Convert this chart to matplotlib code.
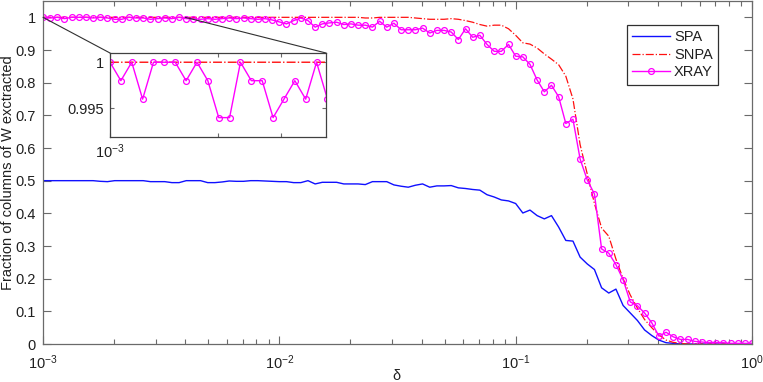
import numpy as np
import matplotlib
matplotlib.use("Agg")
import matplotlib.pyplot as plt
from matplotlib.ticker import FixedLocator, FuncFormatter, LogLocator, NullFormatter
from matplotlib.patches import ConnectionPatch

plt.rcParams['font.family'] = ['Liberation Sans', 'DejaVu Sans']
plt.rcParams['mathtext.fontset'] = 'custom'
plt.rcParams['mathtext.rm'] = 'Liberation Sans'
plt.rcParams['mathtext.it'] = 'Liberation Sans:italic'

# delta grid: 100 log-spaced values from 1e-3 to 1
delta = np.logspace(-3, 0, 100)

spa = [0.5, 0.5, 0.5, 0.5, 0.5, 0.5, 0.5, 0.5, 0.498, 0.497,
       0.5, 0.5, 0.5, 0.5, 0.5, 0.497, 0.497, 0.497, 0.494, 0.494,
       0.5, 0.5, 0.5, 0.494, 0.494, 0.496, 0.499, 0.498, 0.498, 0.5,
       0.5, 0.499, 0.498, 0.497, 0.497, 0.494, 0.494, 0.5, 0.49, 0.495,
       0.495, 0.495, 0.49, 0.49, 0.49, 0.488, 0.497, 0.497, 0.497, 0.487,
       0.483, 0.48, 0.486, 0.49, 0.48, 0.484, 0.484, 0.485, 0.478, 0.476,
       0.473, 0.471, 0.457, 0.45, 0.441, 0.438, 0.43, 0.401, 0.41, 0.393,
       0.383, 0.393, 0.358, 0.317, 0.315, 0.266, 0.245, 0.228, 0.172, 0.156,
       0.168, 0.118, 0.095, 0.072, 0.043, 0.026, 0.012, 0.004, 0.002, 0.0,
       0.0, 0.0, 0.0, 0.0, 0.0, 0.0, 0.0, 0.0, 0.0, 0.0]

snpa = [1.0] * 45 + [
       0.998, 0.998, 1.0, 1.0, 1.0, 1.0, 1.0, 0.998, 0.996, 0.994,
       0.994, 0.994, 0.996, 0.994, 0.99, 0.985, 0.978, 0.973, 0.976, 0.976,
       0.965, 0.945, 0.922, 0.918, 0.906, 0.888, 0.872, 0.855, 0.82, 0.75,
       0.61, 0.52, 0.43, 0.355, 0.33, 0.26, 0.2, 0.15, 0.11, 0.075,
       0.05, 0.028, 0.012, 0.005, 0.002, 0.0, 0.0, 0.0, 0.0, 0.0,
       0.0, 0.0, 0.0, 0.0, 0.0]

xray = [1.0, 0.998, 1.0, 0.996, 1.0, 1.0, 1.0, 0.998, 1.0, 0.998,
        0.994, 0.994, 1.0, 0.998, 0.998, 0.994, 0.996, 0.998, 0.996, 1.0,
        0.996, 0.996, 0.994, 0.996, 0.994, 0.996, 0.998, 0.996, 0.998, 0.996,
        0.994, 0.996, 0.992, 0.986, 0.98, 0.99, 0.998, 0.99, 0.97, 0.98,
        0.983, 0.985, 0.978, 0.98, 0.976, 0.976, 0.97, 0.988, 0.97, 0.982,
        0.962, 0.962, 0.962, 0.967, 0.952, 0.96, 0.96, 0.955, 0.932, 0.965,
        0.939, 0.945, 0.917, 0.896, 0.896, 0.917, 0.881, 0.879, 0.856, 0.808,
        0.772, 0.792, 0.757, 0.675, 0.688, 0.566, 0.502, 0.459, 0.291, 0.278,
        0.243, 0.197, 0.129, 0.117, 0.095, 0.065, 0.024, 0.036, 0.022, 0.014,
        0.014, 0.008, 0.006, 0.004, 0.004, 0.004, 0.002, 0.002, 0.002, 0.002]

yticks = [0, 0.1, 0.2, 0.3, 0.4, 0.5, 0.6, 0.7, 0.8, 0.9, 1]
inset_yticks = [0.995, 1.0]

SPINE = '#6a6a6a'
TXT = '#202020'
C_SPA = '#1010ff'
C_SNPA = '#ff1010'
C_XRAY = '#ff00ff'

W, H = 763, 382
fig = plt.figure(figsize=(W / 100, H / 100), dpi=100)
ax = fig.add_axes([43 / W, 1 - 344 / H, (752 - 43) / W, 343 / H])

ax.plot(delta, spa, '-', color=C_SPA, lw=1.0, label='SPA')
ax.plot(delta, snpa, '-.', color=C_SNPA, lw=0.9, label='SNPA')
ax.plot(delta, xray, '-', color=C_XRAY, lw=1.0, marker='o', ms=4.2,
        mfc='none', mec=C_XRAY, mew=0.9, label='XRAY')

ax.set_xscale('log')
ax.set_xlim(1e-3, 1)
ax.set_ylim(0, 1.05)
ax.yaxis.set_major_locator(FixedLocator(yticks))
ax.yaxis.set_major_formatter(FuncFormatter(lambda v, p: '%g' % v))
ax.xaxis.set_major_locator(LogLocator(base=10, numticks=10))
ax.xaxis.set_major_formatter(FuncFormatter(
    lambda v, p: r'$\mathregular{10^{%d}}$' % int(round(np.log10(v)))))
ax.xaxis.set_minor_locator(LogLocator(base=10, subs=np.arange(2, 10), numticks=20))
ax.xaxis.set_minor_formatter(NullFormatter())

for s in ax.spines.values():
    s.set_color(SPINE)
    s.set_linewidth(0.9)
ax.tick_params(which='both', direction='in', top=True, right=True,
               color=SPINE, labelcolor=TXT, labelsize=10.5, width=0.8)
ax.tick_params(which='major', length=6)
ax.tick_params(which='minor', length=3.5)
ax.tick_params(axis='y', pad=5)
ax.tick_params(axis='x', pad=6.5)

ax.set_ylabel('Fraction of columns of W exctracted', fontsize=10.5, color=TXT)
ax.yaxis.set_label_coords(-0.04, 0.5)
ax.set_xlabel('δ', fontsize=10.5, color=TXT)
ax.xaxis.set_label_coords(0.499, -0.072)

leg = ax.legend(loc='upper right', bbox_to_anchor=(0.952, 0.930),
                borderaxespad=0, fontsize=10.5, fancybox=False, framealpha=1,
                edgecolor='#303030', handlelength=2.6, handletextpad=0.3,
                labelspacing=0.25, borderpad=0.35)
leg.get_frame().set_linewidth(0.9)
for t in leg.get_texts():
    t.set_color(TXT)

# inset
axi = fig.add_axes([110 / W, 1 - 137 / H, 216 / W, 84 / H])
axi.plot(delta, snpa, '-.', color=C_SNPA, lw=1.0)
axi.plot(delta, xray, '-', color=C_XRAY, lw=1.0, marker='o', ms=4.2,
         mfc='none', mec=C_XRAY, mew=0.9)
axi.set_xscale('log')
axi.set_xlim(1e-3, 4e-3)
axi.set_ylim(0.9919, 1.001)
axi.yaxis.set_major_locator(FixedLocator(inset_yticks))
axi.yaxis.set_major_formatter(FuncFormatter(lambda v, p: '%g' % v))
axi.xaxis.set_major_locator(FixedLocator([1e-3]))
axi.xaxis.set_major_formatter(FuncFormatter(lambda v, p: r'$\mathregular{10^{-3}}$'))
axi.xaxis.set_minor_locator(FixedLocator([2e-3, 3e-3]))
axi.xaxis.set_minor_formatter(NullFormatter())
for s in axi.spines.values():
    s.set_color('#404040')
    s.set_linewidth(0.9)
axi.tick_params(which='both', direction='in', top=True, right=True,
                color=SPINE, labelcolor=TXT, labelsize=10.5, width=0.8)
axi.tick_params(which='major', length=3)
axi.tick_params(which='minor', length=3)
axi.tick_params(axis='y', pad=4)
axi.tick_params(axis='x', pad=4)

for xa, xb in [(1e-3, 0.0), (4e-3, 1.0)]:
    con = ConnectionPatch(xyA=(xa, 1.0), coordsA=ax.transData,
                          xyB=(xb, 1.0), coordsB=axi.transAxes,
                          color='#303030', lw=0.8)
    fig.add_artist(con)

fig.savefig('out.png', dpi=100)
